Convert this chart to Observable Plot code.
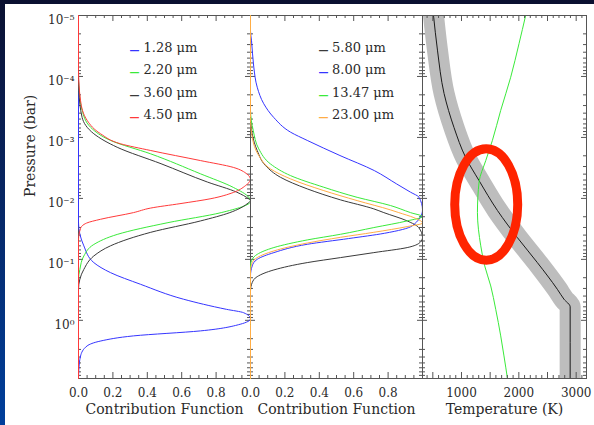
<!DOCTYPE html>
<html><head><meta charset="utf-8">
<script src="https://cdn.jsdelivr.net/npm/d3@7"></script>
<script src="https://cdn.jsdelivr.net/npm/@observablehq/plot@0.6"></script>
<style>
html,body{margin:0;padding:0;}
body{width:594px;height:425px;overflow:hidden;position:relative;background:linear-gradient(#0a1030,#0a1a48 20%,#003f9c);}
#frame{position:absolute;left:5px;top:4px;width:589px;height:421px;background:#fff;}
#chart{position:absolute;left:0;top:0;width:594px;height:425px;}
#chart svg{position:absolute;left:0;top:0;}
</style></head>
<body><div id="frame"></div><div id="chart"></div>
<script>
// ---------- DATA: contribution functions, [pressure (bar), normalized CF] ----------
const cf128 = [[1e-5,0],[0.025,0],[0.060,0.031],[0.113,0.089],[0.165,0.186],[0.256,0.36],[0.45,0.61],[0.66,0.86],[0.75,0.96],[0.94,1.0],[1.16,0.94],[1.49,0.71],[1.80,0.32],[2.18,0.13],[2.63,0.05],[3.84,0.012],[6.4,0.002],[9,0]];
const cf220 = [[1e-5,0],[1.2e-4,0],[1.5e-4,0.002],[3.6e-4,0.021],[6.8e-4,0.07],[1.12e-3,0.186],[1.86e-3,0.42],[3.96e-3,0.71],[6.6e-3,0.90],[9.6e-3,0.99],[0.0112,1.0],[0.0171,0.83],[0.025,0.52],[0.039,0.225],[0.057,0.089],[0.088,0.031],[0.146,0.008],[0.21,0],[9,0]];
const cf360 = [[1e-5,0],[9.7e-5,0],[1.7e-4,0.002],[4.7e-4,0.021],[8.7e-4,0.089],[1.45e-3,0.225],[2.7e-3,0.48],[5.4e-3,0.75],[7.9e-3,0.92],[0.0102,0.99],[0.0108,1.0],[0.0123,0.98],[0.0171,0.88],[0.0234,0.71],[0.036,0.42],[0.060,0.186],[0.088,0.089],[0.146,0.031],[0.21,0.008],[0.31,0],[9,0]];
const cf450 = [[1e-5,0],[8.0e-5,0],[2.5e-4,0.012],[5.3e-4,0.051],[8.7e-4,0.128],[1.27e-3,0.244],[1.64e-3,0.42],[2.4e-3,0.71],[3.1e-3,0.90],[4.0e-3,0.98],[4.9e-3,1.0],[6.2e-3,0.97],[8.0e-3,0.90],[0.0101,0.77],[0.0122,0.59],[0.0144,0.42],[0.0171,0.32],[0.022,0.128],[0.0254,0.047],[0.031,0.012],[0.049,0],[9,0]];
const cf580 = [[1e-5,0],[4.1e-4,0],[8.7e-4,0.010],[1.64e-3,0.039],[2.89e-3,0.087],[4.5e-3,0.174],[6.98e-3,0.33],[0.01057,0.523],[0.01486,0.717],[0.0171,0.775],[0.0234,0.911],[0.0301,0.978],[0.044,1.0],[0.053,0.985],[0.0641,0.911],[0.0775,0.717],[0.0936,0.523],[0.113,0.33],[0.149,0.136],[0.192,0.039],[0.240,0.010],[0.33,0],[9,0]];
const cf800 = [[1e-5,0],[1.8e-5,0],[2.6e-5,0.006],[7.0e-5,0.019],[1.5e-4,0.039],[2.8e-4,0.077],[4.7e-4,0.135],[8.2e-4,0.233],[1.12e-3,0.33],[1.98e-3,0.52],[3.5e-3,0.72],[5.8e-3,0.85],[7.9e-3,0.93],[9.6e-3,0.98],[0.0155,1.0],[0.0282,0.94],[0.0373,0.78],[0.0456,0.57],[0.0566,0.33],[0.0775,0.136],[0.0998,0.039],[0.128,0.010],[0.187,0],[9,0]];
const cf1347 = [[1e-5,0],[3.6e-4,0],[7.7e-4,0.016],[1.54e-3,0.048],[2.72e-3,0.116],[4.23e-3,0.233],[6.56e-3,0.426],[9.6e-3,0.62],[0.0131,0.814],[0.0171,0.93],[0.0199,1.0],[0.0234,0.911],[0.0301,0.717],[0.0388,0.523],[0.048,0.33],[0.064,0.136],[0.0827,0.039],[0.0998,0.010],[0.128,0],[9,0]];
const cf2300 = [[1e-5,0],[4.7e-4,0],[9.9e-4,0.010],[1.98e-3,0.048],[3.28e-3,0.116],[4.79e-3,0.233],[7.45e-3,0.426],[0.01087,0.62],[0.01545,0.814],[0.0171,0.862],[0.0207,0.95],[0.0254,1.0],[0.029,0.911],[0.036,0.717],[0.0435,0.523],[0.054,0.33],[0.0727,0.136],[0.0936,0.039],[0.113,0.010],[0.155,0],[9,0]];

// ---------- DATA: temperature profiles ----------
const profileT = [512, 581, 696, 870, 1074, 1306, 1627, 1975, 2323, 2672, 2787, 2895, 2895];
const profileP = [1e-5, 3.7e-5, 1.9e-4, 6.9e-4, 2.14e-3, 5.1e-3, 0.0158, 0.044, 0.113, 0.31, 0.45, 0.60, 9];
const greenT = [2119, 2003, 1858, 1684, 1539, 1423, 1306, 1278, 1336, 1405, 1510, 1597, 1684, 1741, 1801];
const greenP = [1e-5, 2.9e-5, 1.03e-4, 3.6e-4, 1.12e-3, 2.4e-3, 5.4e-3, 0.0171, 0.060, 0.128, 0.273, 0.66, 1.8, 3.84, 8.9];
const highlightT = [1431];
const highlightP = [0.0126];

// ---------- DATA: labels and ticks ----------
const legend1 = ["1.28 μm", "2.20 μm", "3.60 μm", "4.50 μm"];
const legend2 = ["5.80 μm", "8.00 μm", "13.47 μm", "23.00 μm"];
const pDecades = [1e-5, 1e-4, 1e-3, 1e-2, 1e-1, 1];
const cfMajor = [0, 0.2, 0.4, 0.6, 0.8, 1.0];
const cfLabels = [0, 0.2, 0.4, 0.6, 0.8];
const tMajor = [500, 1000, 1500, 2000, 2500, 3000];
const tLabels = [1000, 2000, 3000];
const xTitleCF = "Contribution Function";
const xTitleT = "Temperature (K)";
const yTitle = "Pressure (bar)";

// ---------- rendering ----------
const BLUE = "#3535ff", GREEN = "#3aea3a", DARK = "#3a3a3a", RED = "#ff3a3a", ORANGE = "#ffad45";
const AX = "#555", TXT = "#2a2a2a";
const W = 594, H = 425, TOP = 15, BOT = 378, FH = BOT - TOP;
const yDomain = [1e-5, 9];
const pMinor = d3.scaleLog().domain(yDomain).ticks().filter(v => !pDecades.some(d => Math.abs(d - v) / d < 1e-6));
const cfMinor = d3.range(0, 1.0001, 0.05).filter(v => !cfMajor.some(d => Math.abs(d - v) < 1e-6));
const tMinor = d3.range(400, 3181, 100).filter(v => v % 500 !== 0);
const rowDy = [27, 49, 72, 94];

const sup = {"-": "⁻", "0": "⁰", "1": "¹", "2": "²", "3": "³", "4": "⁴", "5": "⁵"};
const powFmt = v => "10" + String(Math.round(Math.log10(v))).split("").map(c => sup[c]).join("");

const style = {background: "transparent", fontFamily: "'DejaVu Serif', serif", fontSize: "12px", color: TXT, overflow: "visible"};

function frameTicks(xMaj, xMin, fw) {
  return [
    Plot.tickX(xMaj, {x: d => d, insetTop: FH - 6, stroke: AX}),
    Plot.tickX(xMaj, {x: d => d, insetBottom: FH - 6, stroke: AX}),
    Plot.tickX(xMin, {x: d => d, insetTop: FH - 3, stroke: AX}),
    Plot.tickX(xMin, {x: d => d, insetBottom: FH - 3, stroke: AX}),
    Plot.tickY(pDecades, {y: d => d, insetRight: fw - 5, stroke: AX}),
    Plot.tickY(pDecades, {y: d => d, insetLeft: fw - 5, stroke: AX}),
    Plot.tickY(pMinor, {y: d => d, insetRight: fw - 3, stroke: AX}),
    Plot.tickY(pMinor, {y: d => d, insetLeft: fw - 3, stroke: AX})
  ];
}

function legend(labels, colors, dxLine, dxText) {
  return labels.flatMap((t, i) => [
    Plot.text([t], {text: d => d, frameAnchor: "top-left", dx: dxText, dy: rowDy[i], textAnchor: "start", fill: TXT, fontSize: 13}),
    Plot.text(["—"], {text: d => d, frameAnchor: "top-left", dx: dxLine, dy: rowDy[i] + 3.5, textAnchor: "start", fill: colors[i], fontSize: 10, fontWeight: "bold"})
  ]);
}

function cfLine(data, color) {
  return Plot.line(data, {x: d => d[1], y: d => d[0], stroke: color, strokeWidth: 1, curve: "monotone-y"});
}

function xTitle(t) {
  return Plot.text([t], {text: d => d, frameAnchor: "bottom", dy: 35, fontSize: 14, fill: TXT});
}

const chart = document.getElementById("chart");

// Panel 1
chart.append(Plot.plot({
  width: W, height: H, marginLeft: 78, marginRight: W - 250, marginTop: TOP, marginBottom: H - BOT,
  x: {domain: [0, 1]}, y: {type: "log", domain: yDomain, reverse: true},
  style,
  marks: [
    Plot.frame({stroke: AX}),
    ...frameTicks(cfMajor, cfMinor, 172),
    Plot.axisX({anchor: "bottom", ticks: cfLabels, tickSize: 0, tickPadding: 10, tickFormat: d3.format(".1f"), label: null, fill: TXT}),
    Plot.axisY({anchor: "left", ticks: pDecades, tickSize: 0, tickPadding: 4, tickFormat: powFmt, label: null, dy: 5, fill: TXT}),
    cfLine(cf128, BLUE), cfLine(cf220, GREEN), cfLine(cf360, DARK), cfLine(cf450, RED),
    ...legend(legend1, [BLUE, GREEN, DARK, RED], 51, 65),
    xTitle(xTitleCF),
    Plot.text([yTitle], {text: d => d, frameAnchor: "left", rotate: -90, dx: -48, fontSize: 14, fill: TXT})
  ]
}));

// Panel 2
chart.append(Plot.plot({
  width: W, height: H, marginLeft: 250, marginRight: W - 422, marginTop: TOP, marginBottom: H - BOT,
  x: {domain: [0, 1]}, y: {type: "log", domain: yDomain, reverse: true, axis: null},
  style,
  marks: [
    Plot.frame({stroke: AX}),
    ...frameTicks(cfMajor, cfMinor, 172),
    Plot.axisX({anchor: "bottom", ticks: cfLabels, tickSize: 0, tickPadding: 10, tickFormat: d3.format(".1f"), label: null, fill: TXT}),
    cfLine(cf580, DARK), cfLine(cf800, BLUE), cfLine(cf1347, GREEN), cfLine(cf2300, ORANGE),
    ...legend(legend2, [DARK, BLUE, GREEN, ORANGE], 68, 81.5),
    xTitle(xTitleCF)
  ]
}));

// Panel 3
const ellipse = {draw(ctx) {
  const rx = 31.5, ry = 55.7, k = 0.5523;
  ctx.moveTo(rx, 0);
  ctx.bezierCurveTo(rx, k * ry, k * rx, ry, 0, ry);
  ctx.bezierCurveTo(-k * rx, ry, -rx, k * ry, -rx, 0);
  ctx.bezierCurveTo(-rx, -k * ry, -k * rx, -ry, 0, -ry);
  ctx.bezierCurveTo(k * rx, -ry, rx, -k * ry, rx, 0);
  ctx.closePath();
}};
chart.append(Plot.plot({
  width: W, height: H, marginLeft: 422, marginRight: W - 586, marginTop: TOP, marginBottom: H - BOT,
  x: {domain: [320, 3180]}, y: {type: "log", domain: yDomain, reverse: true, axis: null},
  style,
  marks: [
    Plot.line(profileT, {x: d => d, y: (d, i) => profileP[i], stroke: "#bdbdbd", strokeWidth: 21, strokeLinejoin: "round", curve: "monotone-y", clip: true}),
    Plot.line(profileT, {x: d => d, y: (d, i) => profileP[i], stroke: "#1a1a1a", strokeWidth: 1, curve: "monotone-y"}),
    Plot.line(greenT, {x: d => d, y: (d, i) => greenP[i], stroke: GREEN, strokeWidth: 1, curve: "monotone-y"}),
    Plot.dot(highlightT, {x: d => d, y: (d, i) => highlightP[i], symbol: ellipse, fill: "none", stroke: "#ff2400", strokeWidth: 9}),
    Plot.frame({stroke: AX}),
    ...frameTicks(tMajor, tMinor, 164),
    Plot.axisX({anchor: "bottom", ticks: tLabels, tickSize: 0, tickPadding: 10, tickFormat: d => String(d), label: null, fill: TXT}),
    xTitle(xTitleT)
  ]
}));
</script></body></html>
